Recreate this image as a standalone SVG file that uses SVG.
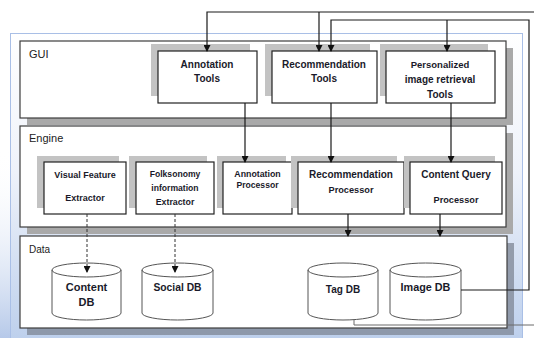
<svg xmlns="http://www.w3.org/2000/svg" width="534" height="338" viewBox="0 0 534 338">
  <defs>
    <linearGradient id="frameFill" x1="0" y1="0" x2="0" y2="1">
      <stop offset="0" stop-color="#ffffff"/>
      <stop offset="0.45" stop-color="#eef2fa"/>
      <stop offset="1" stop-color="#bccfec"/>
    </linearGradient>
    <linearGradient id="edgeFill" x1="0" y1="0" x2="0" y2="1">
      <stop offset="0" stop-color="#ffffff" stop-opacity="0"/>
      <stop offset="1" stop-color="#b6c9e9"/>
    </linearGradient>
    <marker id="arrow" markerWidth="7" markerHeight="7" refX="6" refY="3.5" orient="auto" markerUnits="userSpaceOnUse">
      <path d="M0,0 L7,3.5 L0,7 Z" fill="#111"/>
    </marker>
    <style>
      .panel { fill: #ffffff; stroke: #3c3c3c; stroke-width: 1.2; }
      .pshadow { fill: #a9a9a9; }
      .dshadow { fill: #7e8694; opacity: 0.75; }
      .nshadow { fill: #c3c3c3; }
      .box { fill: #ffffff; stroke: #222; stroke-width: 1.2; }
      .db { fill: #ffffff; stroke: #555; stroke-width: 1; }
      .plabel { font-family: "Liberation Sans", Arial, sans-serif; font-size: 11px; fill: #222; }
      .t { font-family: "Liberation Sans", Arial, sans-serif; font-weight: bold; fill: #1a1a2a; text-anchor: middle; }
      .wire { fill: none; stroke: #1a1a1a; stroke-width: 1.2; }
      .dash { fill: none; stroke: #333; stroke-width: 1; stroke-dasharray: 3 2; }
    </style>
  </defs>

  <!-- background frame -->
  <rect x="0" y="0" width="534" height="338" fill="#ffffff"/>
  <rect x="0" y="150" width="11" height="188" fill="url(#edgeFill)"/>
  <rect x="10.5" y="33.5" width="512" height="310" fill="url(#frameFill)" stroke="#a9bfe6" stroke-width="1"/>

  <!-- layer panels -->
  <g id="panel-gui">
    <rect class="pshadow" x="27" y="48" width="486" height="77"/>
    <rect class="panel" x="20" y="41" width="486" height="77"/>
    <text class="plabel" x="29" y="57.5">GUI</text>
  </g>
  <g id="panel-engine">
    <rect class="pshadow" x="27" y="133" width="486" height="101"/>
    <rect class="panel" x="20" y="126" width="486" height="101"/>
    <text class="plabel" x="29" y="141.7">Engine</text>
  </g>
  <g id="panel-data">
    <rect class="dshadow" x="27" y="243" width="487" height="92"/>
    <rect class="panel" x="20" y="236" width="487" height="92"/>
    <text class="plabel" x="29" y="253.3" style="font-size:10px">Data</text>
  </g>

  <!-- GUI nodes -->
  <g id="annotation-tools">
    <rect class="nshadow" x="151" y="44" width="99" height="52"/>
    <rect class="box" x="158" y="51" width="99" height="52"/>
    <text class="t" x="207" y="67.5" font-size="10">Annotation</text>
    <text class="t" x="207" y="81.5" font-size="10">Tools</text>
  </g>
  <g id="recommendation-tools">
    <rect class="nshadow" x="265" y="44" width="105" height="52"/>
    <rect class="box" x="272" y="51" width="105" height="52"/>
    <text class="t" x="324" y="67.5" font-size="10">Recommendation</text>
    <text class="t" x="324" y="81.5" font-size="10">Tools</text>
  </g>
  <g id="personalized-tools">
    <rect class="nshadow" x="380" y="44" width="108" height="52"/>
    <rect class="box" x="386" y="51" width="109" height="52"/>
    <text class="t" x="440" y="68" font-size="9.5">Personalized</text>
    <text class="t" x="440" y="82.5" font-size="10">image retrieval</text>
    <text class="t" x="440" y="97.5" font-size="10">Tools</text>
  </g>

  <!-- Engine nodes -->
  <g id="visual-feature-extractor">
    <rect class="nshadow" x="37" y="156" width="82" height="52"/>
    <rect class="box" x="44" y="162" width="82" height="52"/>
    <text class="t" x="85" y="177.5" font-size="9">Visual Feature</text>
    <text class="t" x="85" y="201" font-size="9">Extractor</text>
  </g>
  <g id="folksonomy-extractor">
    <rect class="nshadow" x="129" y="156" width="78" height="52"/>
    <rect class="box" x="136" y="162" width="78" height="52"/>
    <text class="t" x="175" y="177" font-size="8.6">Folksonomy</text>
    <text class="t" x="175" y="191" font-size="8.6">information</text>
    <text class="t" x="175" y="205" font-size="8.8">Extractor</text>
  </g>
  <g id="annotation-processor">
    <rect class="nshadow" x="217" y="156" width="69" height="52"/>
    <rect class="box" x="223" y="162" width="69" height="52"/>
    <text class="t" x="257.5" y="177" font-size="8.8">Annotation</text>
    <text class="t" x="257.5" y="188" font-size="8.6">Processor</text>
  </g>
  <g id="recommendation-processor">
    <rect class="nshadow" x="291" y="156" width="106" height="52"/>
    <rect class="box" x="298" y="162" width="106" height="52"/>
    <text class="t" x="351" y="178" font-size="10">Recommendation</text>
    <text class="t" x="351" y="192.5" font-size="9.2">Processor</text>
  </g>
  <g id="content-query-processor">
    <rect class="nshadow" x="404" y="156" width="91" height="52"/>
    <rect class="box" x="410" y="162" width="92" height="52"/>
    <text class="t" x="456" y="177.5" font-size="10">Content Query</text>
    <text class="t" x="456" y="202.5" font-size="9.2">Processor</text>
  </g>

  <!-- Data stores -->
  <g id="content-db">
    <path class="db" d="M52,270 L52,313 A34.5,7 0 0 0 121,313 L121,270 A34.5,7 0 0 0 52,270 A34.5,7 0 0 0 121,270"/>
    <text class="t" x="86.5" y="291.2" font-size="11">Content</text>
    <text class="t" x="86.5" y="306" font-size="11">DB</text>
  </g>
  <g id="social-db">
    <path class="db" d="M142,270 L142,313 A35.5,7 0 0 0 213,313 L213,270 A35.5,7 0 0 0 142,270 A35.5,7 0 0 0 213,270"/>
    <text class="t" x="177.5" y="291" font-size="10.3">Social DB</text>
  </g>
  <g id="tag-db">
    <path class="db" d="M308,270 L308,313 A35,7 0 0 0 378,313 L378,270 A35,7 0 0 0 308,270 A35,7 0 0 0 378,270"/>
    <text class="t" x="343" y="292.5" font-size="10">Tag DB</text>
  </g>
  <g id="image-db">
    <path class="db" d="M390,270 L390,313 A35.5,7 0 0 0 461,313 L461,270 A35.5,7 0 0 0 390,270 A35.5,7 0 0 0 461,270"/>
    <text class="t" x="425.5" y="291" font-size="10.8">Image DB</text>
  </g>

  <!-- connectors -->
  <g id="connectors">
    <!-- feedback bus along the top -->
    <path class="wire" d="M534,12 L207,12 L207,51" marker-end="url(#arrow)"/>
    <path class="wire" d="M319,12 L319,51" marker-end="url(#arrow)"/>
    <path class="wire" d="M461,290 L529,290 L529,20 L331,20 L331,51" marker-end="url(#arrow)"/>
    <path class="wire" d="M447,20 L447,51" marker-end="url(#arrow)"/>
    <!-- GUI to Engine -->
    <path class="wire" d="M245,103 L245,162" marker-end="url(#arrow)"/>
    <path class="wire" d="M331,103 L331,162" marker-end="url(#arrow)"/>
    <path class="wire" d="M451,103 L451,162" marker-end="url(#arrow)"/>
    <!-- Engine to Data -->
    <path class="wire" d="M348,214 L348,236" marker-end="url(#arrow)"/>
    <path class="wire" d="M440,214 L440,236" marker-end="url(#arrow)"/>
    <path class="dash" d="M87,214 L87,272" marker-end="url(#arrow)"/>
    <path class="dash" d="M175,214 L175,272" marker-end="url(#arrow)"/>
    <!-- Tag DB outlet -->
    <path d="M354,320 L354,325 L534,325" fill="none" stroke="#6a6a6a" stroke-width="1"/>
  </g>
</svg>
